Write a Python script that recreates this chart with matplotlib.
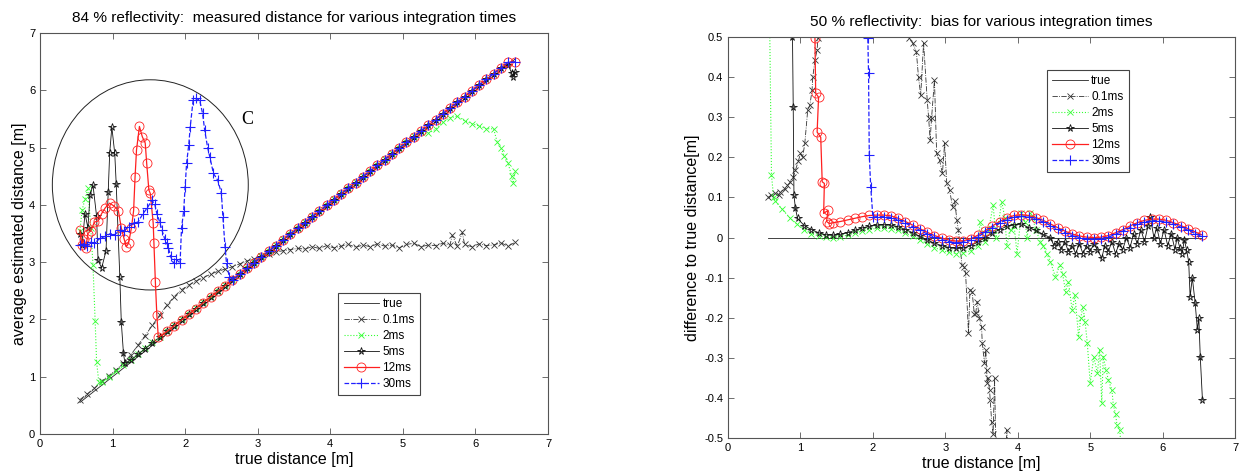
"""
plot.py - measured distance and bias for several integration times
(84 % and 50 % reflectivity), redrawn with matplotlib.
"""

import matplotlib
matplotlib.use("Agg")
import matplotlib.pyplot as plt
import matplotlib.ticker as ticker
from matplotlib.patches import Ellipse

plt.rcParams["font.family"] = ["Liberation Sans", "DejaVu Sans"]
plt.rcParams["axes.unicode_minus"] = False

# ---------------------------------------------------------------------------
# Data: left panel, 84 % reflectivity, average estimated distance [m]
# ---------------------------------------------------------------------------

labels = ["true", "0.1ms", "2ms", "5ms", "12ms", "30ms"]

l_true_x = [0.55, 6.55]
l_true_y = [0.55, 6.55]

l_01_x = [0.55, 0.65, 0.75, 0.85, 0.95, 1.05, 1.15, 1.25, 1.35, 1.45, 1.55,
          1.65, 1.75, 1.85, 1.95, 2.05, 2.15, 2.25, 2.35, 2.45, 2.55, 2.65,
          2.75, 2.85, 2.95, 3.05, 3.15, 3.25, 3.35, 3.45, 3.55, 3.65, 3.75,
          3.85, 3.95, 4.05, 4.15, 4.25, 4.35, 4.45, 4.55, 4.65, 4.75, 4.85,
          4.95, 5.05, 5.15, 5.25, 5.35, 5.45, 5.55, 5.65, 5.68, 5.75, 5.82,
          5.85, 5.95, 6.05, 6.15, 6.25, 6.35, 6.45, 6.55]
l_01_y = [0.60, 0.70, 0.80, 0.92, 1.02, 1.12, 1.24, 1.38, 1.55, 1.72, 1.90,
          2.08, 2.25, 2.40, 2.52, 2.60, 2.67, 2.73, 2.79, 2.84, 2.88, 2.92,
          2.97, 3.02, 3.06, 3.10, 3.14, 3.18, 3.20, 3.22, 3.24, 3.23, 3.27,
          3.24, 3.29, 3.25, 3.28, 3.31, 3.26, 3.30, 3.27, 3.32, 3.28, 3.30,
          3.25, 3.31, 3.33, 3.27, 3.30, 3.29, 3.33, 3.30, 3.47, 3.28, 3.52,
          3.31, 3.27, 3.32, 3.29, 3.30, 3.34, 3.28, 3.35]

l_2_x = [0.55, 0.58, 0.62, 0.66, 0.70, 0.73, 0.76, 0.78, 0.81,
         0.85, 0.95, 1.05, 1.15, 1.25, 1.35, 1.45, 1.55, 1.65, 1.75, 1.85,
         1.95, 2.05, 2.15, 2.25, 2.35, 2.45, 2.55, 2.65, 2.75, 2.85, 2.95,
         3.05, 3.15, 3.25, 3.35, 3.45, 3.55, 3.65, 3.75, 3.85, 3.95, 4.05,
         4.15, 4.25, 4.35, 4.45, 4.55, 4.65, 4.75, 4.85, 4.95, 5.05, 5.15,
         5.25, 5.35, 5.45, 5.55, 5.65, 5.75, 5.85, 5.95, 6.05, 6.15, 6.25,
         6.30, 6.35, 6.40, 6.45, 6.50, 6.52, 6.55]
l_2_y = [3.55, 3.91, 4.10, 4.29, 3.60, 2.95, 1.97, 1.26, 0.91,
         0.90, 1.00, 1.10, 1.20, 1.30, 1.40, 1.50, 1.60, 1.70, 1.80, 1.90,
         2.00, 2.10, 2.20, 2.30, 2.40, 2.50, 2.60, 2.70, 2.80, 2.90, 3.00,
         3.10, 3.20, 3.30, 3.40, 3.50, 3.60, 3.70, 3.80, 3.90, 4.00, 4.10,
         4.20, 4.30, 4.40, 4.50, 4.60, 4.70, 4.80, 4.90, 5.00, 5.10, 5.20,
         5.27, 5.25, 5.32, 5.45, 5.52, 5.55, 5.47, 5.42, 5.38, 5.33, 5.33,
         5.10, 5.00, 4.85, 4.73, 4.50, 4.38, 4.60]

l_5_x = [0.55, 0.58, 0.62, 0.66, 0.69, 0.73, 0.78, 0.80, 0.85, 0.91, 0.94,
         0.96, 0.99, 1.03, 1.05, 1.10, 1.12, 1.15, 1.17,
         1.25, 1.35, 1.45, 1.55, 1.65, 1.75, 1.85, 1.95, 2.05, 2.15, 2.25,
         2.35, 2.45, 2.55, 2.65, 2.75, 2.85, 2.95, 3.05, 3.15, 3.25, 3.35,
         3.45, 3.55, 3.65, 3.75, 3.85, 3.95, 4.05, 4.15, 4.25, 4.35, 4.45,
         4.55, 4.65, 4.75, 4.85, 4.95, 5.05, 5.15, 5.25, 5.35, 5.45, 5.55,
         5.65, 5.75, 5.85, 5.95, 6.05, 6.15, 6.25, 6.35, 6.45, 6.50, 6.52,
         6.55]
l_5_y = [3.50, 3.30, 3.85, 3.60, 4.17, 4.35, 3.80, 3.03, 2.90, 3.20, 4.23,
         4.90, 5.36, 4.90, 4.37, 2.74, 1.96, 1.41, 1.24,
         1.29, 1.39, 1.49, 1.59, 1.69, 1.79, 1.89, 1.99, 2.09, 2.19, 2.29,
         2.39, 2.49, 2.59, 2.69, 2.79, 2.89, 2.99, 3.09, 3.19, 3.29, 3.39,
         3.49, 3.59, 3.69, 3.79, 3.89, 3.99, 4.09, 4.19, 4.29, 4.39, 4.49,
         4.59, 4.69, 4.79, 4.89, 4.99, 5.09, 5.19, 5.29, 5.39, 5.49, 5.59,
         5.69, 5.79, 5.89, 5.99, 6.09, 6.19, 6.29, 6.39, 6.45, 6.30, 6.23,
         6.32]

l_12_x = [0.55, 0.58, 0.60, 0.63, 0.66, 0.70, 0.75, 0.80, 0.85, 0.90, 0.96,
          1.02, 1.08, 1.12, 1.16, 1.19, 1.22, 1.26, 1.29, 1.31, 1.33, 1.37,
          1.41, 1.45, 1.47, 1.50, 1.52, 1.56, 1.57, 1.59, 1.61, 1.63,
          1.75, 1.85, 1.95, 2.05, 2.15, 2.25, 2.35, 2.45, 2.55, 2.65, 2.75,
          2.85, 2.95, 3.05, 3.15, 3.25, 3.35, 3.45, 3.55, 3.65, 3.75, 3.85,
          3.95, 4.05, 4.15, 4.25, 4.35, 4.45, 4.55, 4.65, 4.75, 4.85, 4.95,
          5.05, 5.15, 5.25, 5.35, 5.45, 5.55, 5.65, 5.75, 5.85, 5.95, 6.05,
          6.15, 6.25, 6.35, 6.45, 6.55]
l_12_y = [3.56, 3.30, 3.40, 3.25, 3.50, 3.55, 3.70, 3.72, 3.85, 3.95, 4.03,
          3.98, 3.90, 3.60, 3.40, 3.27, 3.33, 3.60, 3.90, 4.49, 4.96, 5.37,
          5.19, 5.08, 4.73, 4.26, 4.20, 3.68, 3.33, 2.65, 2.08, 1.69,
          1.79, 1.89, 1.99, 2.09, 2.19, 2.29, 2.39, 2.49, 2.59, 2.69, 2.79,
          2.89, 2.99, 3.09, 3.19, 3.29, 3.39, 3.49, 3.59, 3.69, 3.79, 3.89,
          3.99, 4.09, 4.19, 4.29, 4.39, 4.49, 4.59, 4.69, 4.79, 4.89, 4.99,
          5.09, 5.19, 5.29, 5.39, 5.49, 5.59, 5.69, 5.79, 5.89, 5.99, 6.09,
          6.19, 6.29, 6.39, 6.49, 6.50]

l_30_x = [0.55, 0.60, 0.65, 0.70, 0.75, 0.83, 0.90, 0.97, 1.03, 1.10, 1.16,
          1.22, 1.29, 1.35, 1.42, 1.48, 1.54, 1.58, 1.61, 1.65, 1.68, 1.72,
          1.75, 1.77, 1.80, 1.84, 1.88, 1.93, 1.95, 1.98, 2.00, 2.02, 2.05,
          2.07, 2.11, 2.15, 2.20, 2.24, 2.27, 2.31, 2.34, 2.39, 2.45, 2.50,
          2.52, 2.55, 2.57, 2.61, 2.66,
          2.75, 2.85, 2.95, 3.05, 3.15, 3.25, 3.35, 3.45, 3.55, 3.65, 3.75,
          3.85, 3.95, 4.05, 4.15, 4.25, 4.35, 4.45, 4.55, 4.65, 4.75, 4.85,
          4.95, 5.05, 5.15, 5.25, 5.35, 5.45, 5.55, 5.65, 5.75, 5.85, 5.95,
          6.05, 6.15, 6.25, 6.35, 6.45, 6.55]
l_30_y = [3.30, 3.32, 3.28, 3.35, 3.33, 3.42, 3.45, 3.50, 3.48, 3.56, 3.55,
          3.62, 3.68, 3.70, 3.85, 3.95, 4.08, 4.02, 3.85, 3.70, 3.56, 3.40,
          3.33, 3.25, 3.10, 2.98, 3.05, 2.98, 3.59, 3.90, 4.31, 4.73, 5.05,
          5.36, 5.83, 5.86, 5.83, 5.60, 5.30, 5.00, 4.84, 4.55, 4.43, 4.20,
          3.79, 3.27, 2.98, 2.74, 2.69,
          2.79, 2.89, 2.99, 3.09, 3.19, 3.29, 3.39, 3.49, 3.59, 3.69, 3.79,
          3.89, 3.99, 4.09, 4.19, 4.29, 4.39, 4.49, 4.59, 4.69, 4.79, 4.89,
          4.99, 5.09, 5.19, 5.29, 5.39, 5.49, 5.59, 5.69, 5.79, 5.89, 5.99,
          6.09, 6.19, 6.29, 6.39, 6.49, 6.50]

# ---------------------------------------------------------------------------
# Data: right panel, 50 % reflectivity, difference to true distance [m]
# ---------------------------------------------------------------------------

r_true_x = [0.55, 6.55]
r_true_y = [0.0, 0.0]

r_01_x = [0.55, 0.60, 0.65, 0.70, 0.72, 0.78, 0.82, 0.86, 0.90, 0.93, 0.97,
          1.00, 1.03, 1.06, 1.10, 1.13, 1.16, 1.17, 1.20, 1.23, 1.24, 1.30,
          1.50, 2.00, 2.30, 2.45, 2.50, 2.55, 2.60, 2.63, 2.66, 2.70, 2.75,
          2.77, 2.79, 2.81, 2.85, 2.88, 2.92, 2.96, 2.99, 3.02, 3.06, 3.10,
          3.13, 3.16, 3.18, 3.20, 3.23, 3.26, 3.28, 3.32, 3.34, 3.37, 3.40,
          3.42, 3.44, 3.47, 3.50, 3.51, 3.54, 3.56, 3.57, 3.58, 3.59, 3.61,
          3.62, 3.64, 3.66, 3.68, 3.70, 3.80, 3.85, 3.90]
r_01_y = [0.100, 0.105, 0.110, 0.105, 0.114, 0.120, 0.130, 0.138, 0.150,
          0.168, 0.190, 0.210, 0.200, 0.235, 0.318, 0.330, 0.368, 0.400,
          0.443, 0.468, 0.497, 0.600, 0.800, 0.900, 0.700, 0.550, 0.497,
          0.485, 0.463, 0.400, 0.355, 0.485, 0.343, 0.298, 0.243, 0.298,
          0.393, 0.210, 0.193, 0.160, 0.235, 0.135, 0.118, 0.076, 0.090,
          0.043, 0.018, -0.014, -0.069, -0.073, -0.089, -0.238, -0.130,
          -0.135, -0.190, -0.188, -0.160, -0.200, -0.222, -0.263, -0.313,
          -0.280, -0.330, -0.363, -0.350, -0.380, -0.405, -0.460, -0.490,
          -0.350, -0.550, -0.700, -0.480, -0.700]

r_2_x = [0.55, 0.60, 0.63, 0.65, 0.75, 0.85, 0.95, 1.05, 1.15, 1.25, 1.35,
         1.45, 1.55, 1.65, 1.75, 1.85, 1.95, 2.05, 2.15, 2.25, 2.35, 2.45,
         2.55, 2.65, 2.75, 2.85, 2.95, 3.05, 3.15, 3.25, 3.35, 3.45, 3.48,
         3.55, 3.60, 3.66, 3.70, 3.78, 3.82, 3.85, 3.90, 3.95, 3.99, 4.05,
         4.10, 4.13, 4.17, 4.20, 4.25, 4.31, 4.35, 4.40, 4.45, 4.52, 4.58,
         4.62, 4.66, 4.70, 4.75, 4.79, 4.84, 4.87, 4.90, 4.93, 4.96, 5.00,
         5.05, 5.10, 5.13, 5.16, 5.18, 5.22, 5.25, 5.30, 5.32, 5.35, 5.37,
         5.41, 5.45]
r_2_y = [0.900, 0.155, 0.100, 0.092, 0.070, 0.050, 0.033, 0.020, 0.010,
         0.004, 0.001, 0.000, 0.002, 0.006, 0.011, 0.016, 0.020, 0.023,
         0.024, 0.022, 0.018, 0.011, 0.003, -0.006, -0.016, -0.025, -0.032,
         -0.037, -0.040, -0.038, -0.033, -0.020, 0.039, -0.010, 0.020, 0.081,
         0.000, 0.089, 0.050, -0.020, 0.019, 0.030, -0.040, 0.060, 0.040,
         0.000, 0.060, 0.050, 0.020, -0.010, -0.020, -0.040, -0.060, -0.098,
         -0.069, -0.090, -0.136, -0.110, -0.180, -0.144, -0.248, -0.200,
         -0.173, -0.210, -0.263, -0.363, -0.298, -0.338, -0.280, -0.413,
         -0.297, -0.330, -0.355, -0.380, -0.418, -0.440, -0.467, -0.480,
         -0.600]

r_5_x = [0.55, 0.85, 0.89, 0.90, 0.91, 0.93, 0.96, 1.05, 1.15, 1.25, 1.35,
         1.45, 1.55, 1.65, 1.75, 1.85, 1.95, 2.05, 2.15, 2.25, 2.35, 2.45,
         2.55, 2.65, 2.75, 2.85, 2.95, 3.05, 3.15, 3.25, 3.35, 3.45, 3.55,
         3.65, 3.75, 3.85, 3.95, 4.05, 4.15, 4.25, 4.35, 4.45, 4.50, 4.55,
         4.60, 4.65, 4.70, 4.75, 4.80, 4.85, 4.90, 4.95, 5.00, 5.05, 5.10,
         5.16, 5.20, 5.25, 5.30, 5.35, 5.40, 5.45, 5.50, 5.55, 5.60, 5.65,
         5.70, 5.75, 5.80, 5.83, 5.88, 5.92, 5.97, 6.02, 6.07, 6.12, 6.17,
         6.20, 6.24, 6.27, 6.30, 6.33, 6.36, 6.38, 6.41, 6.45, 6.48, 6.50,
         6.52, 6.55]
r_5_y = [0.900, 0.800, 0.500, 0.326, 0.106, 0.073, 0.048, 0.030, 0.020,
         0.012, 0.007, 0.006, 0.008, 0.012, 0.018, 0.024, 0.028, 0.031,
         0.032, 0.031, 0.027, 0.020, 0.012, 0.003, -0.006, -0.014, -0.020,
         -0.025, -0.027, -0.026, -0.020, -0.011, 0.000, 0.011, 0.020, 0.028,
         0.032, 0.034, 0.025, 0.018, 0.008, 0.000, -0.020, -0.010, -0.030,
         -0.010, -0.035, -0.020, -0.040, -0.015, -0.040, -0.020, -0.035,
         -0.015, -0.030, -0.052, -0.020, -0.035, -0.010, -0.040, -0.015,
         -0.030, 0.000, -0.025, 0.010, -0.015, 0.020, -0.010, 0.030, 0.051,
         0.000, 0.025, -0.015, 0.020, -0.020, 0.010, -0.030, 0.000, -0.027,
         -0.040, -0.005, -0.030, -0.060, -0.148, -0.100, -0.164, -0.230,
         -0.200, -0.297, -0.405]

r_12_x = [0.55, 1.18, 1.20, 1.21, 1.25, 1.23, 1.28, 1.30, 1.33, 1.32, 1.38,
          1.36, 1.40, 1.45, 1.55, 1.65, 1.75, 1.85, 1.95, 2.05, 2.15, 2.25,
          2.35, 2.45, 2.55, 2.65, 2.75, 2.85, 2.95, 3.05, 3.15, 3.25, 3.35,
          3.45, 3.55, 3.65, 3.75, 3.85, 3.95, 4.05, 4.15, 4.25, 4.35, 4.45,
          4.55, 4.65, 4.75, 4.85, 4.95, 5.05, 5.15, 5.25, 5.35, 5.45, 5.55,
          5.65, 5.75, 5.85, 5.95, 6.05, 6.15, 6.25, 6.35, 6.45, 6.55]
r_12_y = [0.800, 0.600, 0.497, 0.360, 0.350, 0.263, 0.250, 0.139, 0.135,
          0.060, 0.068, 0.040, 0.035, 0.037, 0.040, 0.044, 0.048, 0.052,
          0.055, 0.056, 0.056, 0.054, 0.048, 0.040, 0.031, 0.022, 0.013,
          0.005, -0.001, -0.006, -0.009, -0.008, -0.003, 0.006, 0.017, 0.029,
          0.040, 0.049, 0.055, 0.057, 0.055, 0.050, 0.043, 0.034, 0.025,
          0.016, 0.009, 0.004, 0.001, 0.000, 0.001, 0.005, 0.012, 0.020,
          0.029, 0.037, 0.043, 0.046, 0.046, 0.043, 0.037, 0.030, 0.022,
          0.014, 0.006]

r_30_x = [0.55, 1.90, 1.93, 1.94, 1.95, 1.97, 2.00, 2.05, 2.15, 2.25, 2.35,
          2.45, 2.55, 2.65, 2.75, 2.85, 2.95, 3.05, 3.15, 3.25, 3.35, 3.45,
          3.55, 3.65, 3.75, 3.85, 3.95, 4.05, 4.15, 4.25, 4.35, 4.45, 4.55,
          4.65, 4.75, 4.85, 4.95, 5.05, 5.15, 5.25, 5.35, 5.45, 5.55, 5.65,
          5.75, 5.85, 5.95, 6.05, 6.15, 6.25, 6.35, 6.45, 6.55]
r_30_y = [1.000, 0.800, 0.497, 0.410, 0.206, 0.126, 0.051, 0.052, 0.052,
          0.050, 0.044, 0.036, 0.027, 0.018, 0.009, 0.001, -0.005, -0.010,
          -0.013, -0.012, -0.007, 0.002, 0.013, 0.025, 0.036, 0.045, 0.051,
          0.053, 0.051, 0.046, 0.039, 0.030, 0.021, 0.012, 0.005, 0.000,
          -0.003, -0.004, -0.003, 0.001, 0.008, 0.016, 0.025, 0.033, 0.039,
          0.042, 0.042, 0.039, 0.033, 0.026, 0.018, 0.010, 0.003]

# ---------------------------------------------------------------------------
# Styles
# ---------------------------------------------------------------------------

STYLES = [
    dict(color="#222222", linestyle="-", lw=0.6),
    dict(color="#333333", linestyle="-.", lw=0.6, marker="x", ms=4.5, mew=0.6),
    dict(color="#33ff33", linestyle=":", lw=0.8, marker="x", ms=4.5, mew=0.6),
    dict(color="#111111", linestyle="-", lw=0.6, marker="*", ms=5.5, mew=0.6,
         mfc="none"),
    dict(color="#ff2020", linestyle="-", lw=0.9, marker="o", ms=6.5, mew=0.6,
         mfc="none"),
    dict(color="#2020ff", linestyle="--", lw=0.9, marker="+", ms=6.5, mew=0.8),
]


def style_axes(ax):
    for sp in ax.spines.values():
        sp.set_color("#555555")
        sp.set_linewidth(0.8)
    ax.tick_params(which="both", direction="in", top=True, right=True,
                   length=4, width=0.6, color="#555555", labelsize=8)


def add_legend(ax, anchor):
    leg = ax.legend(labels, loc="lower left", bbox_to_anchor=anchor,
                    fontsize=8.5, frameon=True, fancybox=False,
                    handlelength=3.0, handletextpad=0.3, labelspacing=0.33,
                    borderpad=0.45, borderaxespad=0.0)
    leg.get_frame().set_edgecolor("#444444")
    leg.get_frame().set_linewidth(0.8)
    leg.get_frame().set_alpha(1.0)


def draw_left(ax):
    series = [(l_true_x, l_true_y), (l_01_x, l_01_y), (l_2_x, l_2_y),
              (l_5_x, l_5_y), (l_12_x, l_12_y), (l_30_x, l_30_y)]
    for (xs, ys), st in zip(series, STYLES):
        ax.plot(xs, ys, **st)

    # zoom circle around the near-range artefacts
    ax.add_patch(Ellipse((1.52, 4.35), 2.7, 3.67, fill=False,
                         edgecolor="#222222", lw=0.7))
    ax.text(2.85, 5.5, "C", family="Liberation Serif", fontsize=13,
            ha="center", va="center")

    ax.set_xlim(0, 7)
    ax.set_ylim(0, 7)
    ax.set_xticks(range(0, 8))
    ax.set_yticks(range(0, 8))
    ax.set_xlabel("true distance [m]", fontsize=11.5, labelpad=2)
    ax.set_ylabel("average estimated distance [m]", fontsize=11.5, labelpad=1)
    ax.set_title("84 % reflectivity:  measured distance for various "
                 "integration times", fontsize=11.1, pad=8)
    style_axes(ax)
    add_legend(ax, (0.587, 0.097))


def draw_right(ax):
    series = [(r_true_x, r_true_y), (r_01_x, r_01_y), (r_2_x, r_2_y),
              (r_5_x, r_5_y), (r_12_x, r_12_y), (r_30_x, r_30_y)]
    for (xs, ys), st in zip(series, STYLES):
        ax.plot(xs, ys, **st)

    ax.set_xlim(0, 7)
    ax.set_ylim(-0.5, 0.5)
    ax.set_xticks(range(0, 8))
    yt = [-0.5, -0.4, -0.3, -0.2, -0.1, 0.0, 0.1, 0.2, 0.3, 0.4, 0.5]
    ax.set_yticks(yt)
    ax.yaxis.set_major_formatter(
        ticker.FuncFormatter(lambda v, p: "0" if abs(v) < 1e-9 else f"{v:g}"))
    ax.set_xlabel("true distance [m]", fontsize=11.5, labelpad=2)
    ax.set_ylabel("difference to true distance[m]", fontsize=11.5, labelpad=3)
    ax.set_title("50 % reflectivity:  bias for various integration times",
                 fontsize=11.1, pad=8)
    style_axes(ax)
    add_legend(ax, (0.629, 0.663))


def main():
    fig = plt.figure(figsize=(12.46, 4.75), dpi=100)
    ax_l = fig.add_axes([0.0321, 0.0863, 0.4077, 0.844])
    ax_r = fig.add_axes([0.5843, 0.0779, 0.4069, 0.844])
    draw_left(ax_l)
    draw_right(ax_r)
    fig.savefig("out.png", dpi=100, facecolor="white")
    plt.close(fig)


if __name__ == "__main__":
    main()
